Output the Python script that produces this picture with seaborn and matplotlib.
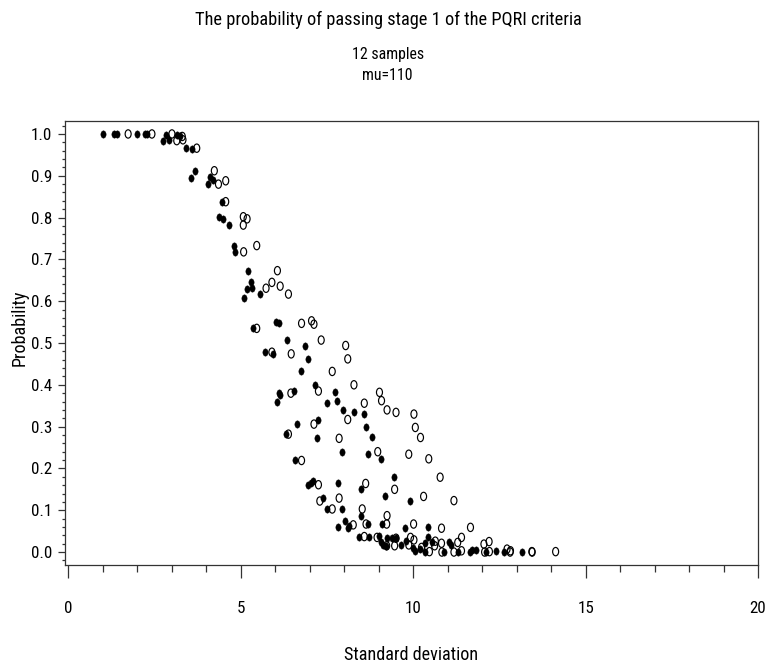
import matplotlib
matplotlib.use("Agg")
import matplotlib.pyplot as plt
from matplotlib import font_manager
from matplotlib.path import Path
from matplotlib.markers import MarkerStyle
from matplotlib.ticker import MultipleLocator, FixedLocator
import seaborn as sns
import numpy as np

# ---------------- data ----------------
sd_filled = [1.00, 1.33, 1.41, 1.98, 2.21, 2.28, 2.82, 3.14, 3.24, 2.74, 2.91, 3.40, 3.58,
             3.68, 3.54, 4.11, 4.06, 4.18, 4.45, 4.36, 4.47, 4.65, 4.80, 4.84, 5.20, 5.29,
             5.32, 5.17, 5.08, 5.56, 5.36, 6.02, 6.11, 6.35, 6.87, 5.69, 5.92, 6.94, 6.74,
             7.15, 7.72, 6.55, 6.11, 6.14, 6.06, 7.49, 7.78, 7.97, 8.27, 8.57, 7.23, 6.62,
             8.62, 6.31, 7.20, 8.79, 7.94, 8.69, 9.06, 6.58, 6.95, 7.03, 7.10, 7.82, 9.43,
             8.49, 9.18, 9.90, 7.39, 7.49, 7.92, 8.49, 7.82, 8.03, 8.10, 8.14, 8.69, 9.10,
             9.75, 10.43, 8.43, 8.73, 9.02, 9.06, 9.12, 9.20, 9.23, 9.38, 9.49, 9.65, 9.79,
             9.99, 10.06, 10.19, 10.35, 10.42, 10.53, 10.33, 11.05, 11.09, 10.88, 11.29,
             11.65, 11.70, 11.82, 12.10, 12.40, 12.62, 13.14]
prob_filled = [1.000, 1.000, 1.000, 1.000, 1.000, 1.000, 0.998, 0.998, 0.994, 0.984, 0.986,
               0.966, 0.964, 0.911, 0.894, 0.898, 0.880, 0.890, 0.838, 0.802, 0.797, 0.782,
               0.733, 0.718, 0.673, 0.645, 0.631, 0.628, 0.607, 0.617, 0.536, 0.551, 0.547,
               0.507, 0.494, 0.478, 0.474, 0.462, 0.432, 0.400, 0.382, 0.385, 0.380, 0.376,
               0.360, 0.356, 0.362, 0.340, 0.334, 0.330, 0.317, 0.306, 0.298, 0.282, 0.272,
               0.274, 0.240, 0.234, 0.223, 0.219, 0.161, 0.166, 0.170, 0.164, 0.179, 0.150,
               0.133, 0.123, 0.129, 0.103, 0.103, 0.087, 0.061, 0.075, 0.058, 0.062, 0.067,
               0.067, 0.058, 0.059, 0.037, 0.035, 0.039, 0.024, 0.017, 0.014, 0.033, 0.033,
               0.033, 0.017, 0.027, 0.009, 0.003, 0.008, 0.021, 0.035, 0.025, 0.001, 0.025,
               0.018, 0.000, 0.000, 0.001, 0.006, 0.006, 0.000, 0.002, 0.000, 0.001]

sd_open = [1.73, 2.42, 3.00, 3.30, 3.14, 3.32, 3.72, 4.23, 4.35, 4.56, 4.56, 5.07, 5.18,
           5.07, 5.08, 5.46, 6.06, 5.73, 5.90, 6.14, 6.38, 5.46, 6.76, 7.05, 7.12, 7.33,
           8.04, 5.90, 6.46, 8.10, 7.65, 8.28, 7.25, 6.45, 9.02, 9.08, 8.58, 9.24, 9.50,
           10.02, 8.10, 7.12, 10.06, 6.38, 7.85, 10.21, 8.97, 9.87, 10.45, 6.76, 7.25,
           10.78, 8.62, 9.46, 10.30, 11.18, 7.29, 7.85, 7.65, 8.52, 9.24, 8.26, 8.63, 9.23,
           10.01, 10.82, 11.66, 8.58, 8.95, 9.23, 9.46, 9.50, 9.92, 10.02, 9.87, 10.24,
           10.47, 10.64, 10.62, 10.82, 10.83, 11.18, 11.29, 11.40, 11.40, 12.05, 12.20,
           12.07, 12.21, 12.72, 12.82, 12.81, 13.44, 13.45, 14.13]
prob_open = [1.000, 1.000, 1.000, 0.994, 0.984, 0.986, 0.966, 0.912, 0.880, 0.888, 0.838,
             0.802, 0.797, 0.782, 0.718, 0.733, 0.673, 0.631, 0.645, 0.636, 0.617, 0.535,
             0.547, 0.553, 0.545, 0.507, 0.494, 0.478, 0.474, 0.462, 0.432, 0.400, 0.385,
             0.380, 0.382, 0.362, 0.356, 0.340, 0.334, 0.330, 0.317, 0.306, 0.298, 0.282,
             0.272, 0.274, 0.240, 0.234, 0.223, 0.219, 0.161, 0.179, 0.164, 0.150, 0.133,
             0.123, 0.122, 0.129, 0.103, 0.103, 0.087, 0.065, 0.067, 0.067, 0.067, 0.057,
             0.059, 0.037, 0.035, 0.015, 0.015, 0.033, 0.035, 0.029, 0.017, 0.011, 0.001,
             0.026, 0.015, 0.021, 0.000, 0.000, 0.023, 0.035, 0.003, 0.019, 0.025, 0.000,
             0.001, 0.007, 0.003, 0.000, 0.001, 0.000, 0.001]

x_ticks = [0, 5, 10, 15, 20]
x_ticklabels = ["0", "5", "10", "15", "20"]
y_ticks = [0.0, 0.1, 0.2, 0.3, 0.4, 0.5, 0.6, 0.7, 0.8, 0.9, 1.0]
y_ticklabels = ["0.0", "0.1", "0.2", "0.3", "0.4", "0.5", "0.6", "0.7", "0.8", "0.9", "1.0"]

title = "The probability of passing stage 1 of the PQRI criteria"
subtitle1 = "12 samples"
subtitle2 = "mu=110"
xlabel = "Standard deviation"
ylabel = "Probability"

# ---------------- styling ----------------
sns.set_theme(style="white")

# pick the narrowest installed sans family available
fl = font_manager.fontManager.ttflist
names = {f.name for f in fl}
candidates = ["Liberation Sans Narrow", "Roboto Condensed", "Noto Sans ExtraCondensed",
              "Noto Sans Condensed", "Open Sans Condensed", "DejaVu Sans Condensed"]
narrow = None
stretch = "normal"
for c in candidates:
    if c in names:
        narrow = c
        break
if narrow is None:
    for fam in ["DejaVu Sans", "Noto Sans", "Open Sans", "Roboto"]:
        if any(f.name == fam and "condensed" in str(f.stretch) for f in fl):
            narrow = fam
            stretch = "condensed"
            break
if narrow is None:
    narrow = "DejaVu Sans"
plt.rcParams["font.family"] = [narrow, "DejaVu Sans"]
plt.rcParams["font.stretch"] = stretch
plt.rcParams["text.color"] = "black"
plt.rcParams["xtick.color"] = "black"
plt.rcParams["ytick.color"] = "black"

W, H = 767, 668
fig = plt.figure(figsize=(W / 100, H / 100), dpi=100)
fig.patch.set_facecolor("white")

left_px, right_px, top_px, bottom_px = 64.5, 758, 121, 565
ax = fig.add_axes([left_px / W, 1 - bottom_px / H,
                   (right_px - left_px) / W, (bottom_px - top_px) / H])
ax.set_facecolor("white")

# tall elliptical marker like the SAS dot / "o" symbol
circ = Path.unit_circle()
ell = Path(circ.vertices * np.array([0.72, 1.0]), circ.codes)
mk = MarkerStyle(ell)

sns.scatterplot(x=sd_filled, y=prob_filled, marker=mk, s=28, color="black",
                edgecolor="black", linewidth=0.3, ax=ax, zorder=3)
sns.scatterplot(x=sd_open, y=prob_open, marker=mk, s=36, facecolor="none",
                edgecolor="black", linewidth=0.85, ax=ax, zorder=4)

ax.set_xlim(-0.116, 20.0)
ax.set_ylim(-0.031, 1.031)

for sp in ax.spines.values():
    sp.set_visible(True)
    sp.set_color("#333333")
    sp.set_linewidth(0.9)

ax.xaxis.set_major_locator(FixedLocator(x_ticks))
ax.xaxis.set_minor_locator(MultipleLocator(1))
ax.yaxis.set_major_locator(FixedLocator(y_ticks))
ax.yaxis.set_minor_locator(MultipleLocator(0.02))
ax.set_xticklabels(x_ticklabels)
ax.set_yticklabels(y_ticklabels)
ax.set_xlabel("")
ax.set_ylabel("")

ax.tick_params(axis="x", which="major", direction="out", length=9, width=0.9,
               color="#333333", pad=17, labelsize=12, bottom=True)
ax.tick_params(axis="x", which="minor", direction="out", length=5, width=0.9,
               color="#333333", bottom=True)
ax.tick_params(axis="y", which="major", direction="out", length=5, width=0.9,
               color="#333333", pad=4, labelsize=12, left=True)
ax.tick_params(axis="y", which="minor", direction="out", length=2.5, width=0.9,
               color="#333333", left=True)

t_x = fig.text(411 / W, 1 - 655 / H, xlabel, ha="center", va="center", fontsize=12)
t_y = fig.text(20 / W, 1 - 328 / H, ylabel, ha="center", va="center", fontsize=12,
               rotation=90)
t_t = fig.text(388 / W, 1 - 20 / H, title, ha="center", va="center", fontsize=13)
t_s1 = fig.text(388 / W, 1 - 55 / H, subtitle1, ha="center", va="center", fontsize=11)
t_s2 = fig.text(387 / W, 1 - 75 / H, subtitle2, ha="center", va="center", fontsize=11)

# fit text sizes to the widths measured on the reference (pixels)
fig.canvas.draw()
r = fig.canvas.get_renderer()


def fit(t, target, lo=7, hi=22):
    cur = t.get_window_extent(r).width
    t.set_fontsize(float(np.clip(t.get_fontsize() * target / cur, lo, hi)))


fit(t_t, 385)
fit(t_s1, 72)
t_s2.set_fontsize(t_s1.get_fontsize())
fit(t_x, 134)
t_y.set_fontsize(t_x.get_fontsize())

ylab = [l for l in ax.get_yticklabels() if l.get_text() == "1.0"][0]
yw = ylab.get_window_extent(r).width
ysize = float(np.clip(12 * 21 / yw, 8, 16))
ax.tick_params(axis="y", which="major", labelsize=ysize)
ax.tick_params(axis="x", which="major", labelsize=ysize)

fig.savefig("out.png", dpi=100, facecolor="white")
